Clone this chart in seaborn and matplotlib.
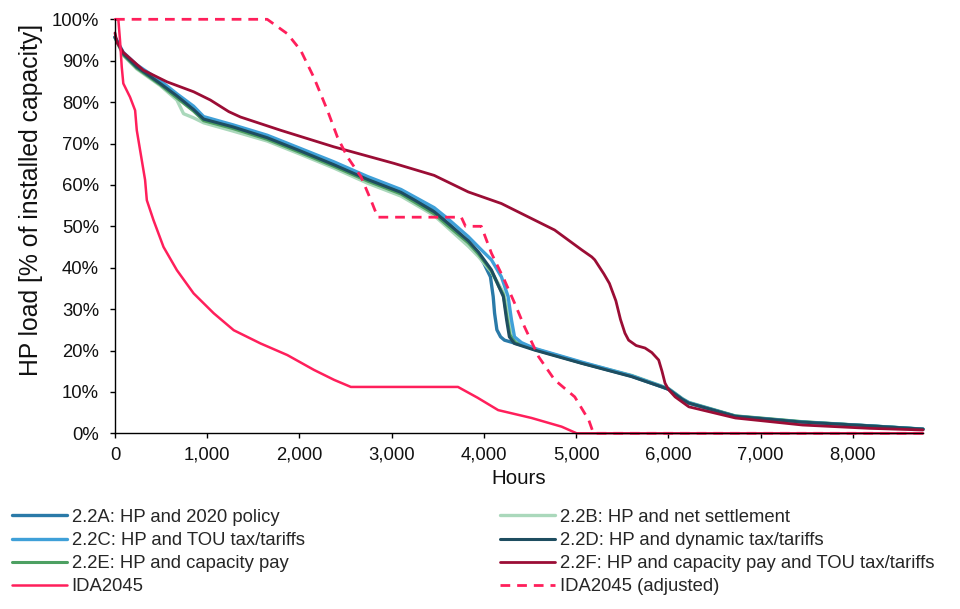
import matplotlib
matplotlib.use("Agg")
import matplotlib.pyplot as plt
import seaborn as sns
from matplotlib.ticker import PercentFormatter, FuncFormatter, MultipleLocator

# load duration curves (hours vs % of installed capacity)
hours_a = [0, 54, 90, 236, 490, 671, 852, 961, 1280, 1650, 2010, 2370, 2740, 3100, 3460, 3610, 3830, 3940,
           4000, 4070, 4100, 4115, 4140, 4180, 4222, 4330, 4516, 5060, 5600, 5930, 6003, 6150, 6220, 6726,
           7450, 8180, 8760]
load_a = [95.7, 93.3, 91.8, 88.7, 84.8, 81.6, 78.5, 76.2, 74.2, 71.6, 68.5, 65.2, 61.6, 58.4, 53.8, 50.8, 46.3,
          43.2, 41.0, 37.8, 33.0, 29.0, 25.0, 23.3, 22.5, 21.8, 20.6, 17.0, 13.8, 11.2, 10.6, 8.2, 7.3, 4.1,
          2.7, 1.8, 1.0]

hours_b = [0, 54, 90, 236, 490, 671, 743, 852, 961, 1280, 1650, 2010, 2370, 2740, 3100, 3460, 3610, 3830, 3940,
           4080, 4160, 4210, 4255, 4290, 4360, 4550, 5060, 5600, 5930, 6003, 6150, 6220, 6726, 7450, 8180, 8760]
load_b = [95.5, 93.0, 91.3, 88.0, 84.0, 80.5, 77.2, 76.2, 75.0, 73.0, 70.6, 67.4, 64.1, 60.4, 57.3, 52.6, 49.6,
          45.2, 42.7, 39.0, 36.0, 34.0, 30.0, 24.0, 22.0, 20.4, 17.1, 14.0, 11.4, 10.8, 8.4, 7.5, 4.2, 2.8, 1.8, 1.0]

hours_c = [0, 54, 90, 236, 490, 671, 852, 961, 1280, 1650, 2010, 2370, 2740, 3100, 3460, 3610, 3830, 3972, 4081,
           4189, 4262, 4298, 4331, 4407, 4550, 5060, 5600, 5930, 6003, 6150, 6220, 6726, 7450, 8180, 8760]
load_c = [95.7, 93.5, 92.0, 89.0, 85.2, 82.0, 79.0, 76.5, 74.5, 72.0, 68.8, 65.6, 62.0, 58.9, 54.5, 51.8, 47.5,
          44.3, 41.9, 37.8, 33.0, 27.4, 23.3, 21.9, 20.5, 17.2, 13.9, 11.3, 10.7, 8.3, 7.4, 4.1, 2.7, 1.8, 1.0]

hours_d = [0, 54, 90, 236, 490, 671, 852, 961, 1280, 1650, 2010, 2370, 2740, 3100, 3250, 3460, 3610, 3830, 3940,
           4080, 4115, 4160, 4210, 4245, 4275, 4330, 4550, 5060, 5600, 5930, 6003, 6150, 6220, 6726, 7450, 8180,
           8760]
load_d = [95.7, 93.3, 91.7, 88.5, 84.5, 81.5, 78.2, 75.9, 74.0, 71.4, 68.2, 64.9, 61.3, 58.2, 56.3, 53.5, 50.7,
          46.5, 43.8, 39.5, 37.8, 35.5, 33.0, 27.4, 23.3, 21.7, 20.1, 16.9, 13.7, 11.2, 10.6, 8.2, 7.3, 4.1, 2.7,
          1.8, 1.0]

hours_e = [0, 54, 90, 236, 490, 671, 852, 961, 1280, 1650, 2010, 2370, 2740, 3100, 3460, 3610, 3830, 3940, 4080,
           4160, 4210, 4245, 4280, 4340, 4550, 5060, 5600, 5930, 6003, 6150, 6220, 6726, 7450, 8180, 8760]
load_e = [95.6, 93.1, 91.4, 88.2, 84.2, 81.0, 77.8, 75.5, 73.6, 71.0, 67.8, 64.5, 60.9, 57.8, 53.0, 50.1, 46.0,
          43.3, 39.2, 35.5, 33.5, 28.5, 23.8, 21.9, 20.2, 17.0, 13.9, 11.3, 10.7, 8.3, 7.4, 4.2, 2.8, 1.8, 1.0]

hours_f = [0, 20, 90, 308, 563, 852, 1034, 1233, 1360, 1795, 2372, 3025, 3460, 3830, 4189, 4333, 4766, 5060,
           5169, 5201, 5300, 5360, 5430, 5480, 5528, 5568, 5650, 5746, 5820, 5894, 5930, 5963, 6003, 6072, 6221,
           6726, 7454, 8180, 8760]
load_f = [96.7, 94.5, 92.0, 87.7, 84.9, 82.5, 80.5, 77.7, 76.4, 73.2, 69.2, 65.2, 62.3, 58.3, 55.5, 53.9, 49.1,
          44.3, 42.6, 41.9, 38.5, 36.2, 32.0, 27.5, 24.2, 22.5, 21.2, 20.6, 19.5, 17.7, 15.0, 12.1, 10.5, 8.8,
          6.4, 3.7, 2.0, 1.2, 0.8]

hours_ida = [0, 36, 54, 73, 90, 163, 218, 236, 326, 345, 417, 526, 671, 852, 1070, 1287, 1578, 1868, 2158, 2376,
             2557, 3718, 3930, 4154, 4516, 4842, 5005, 8760]
load_ida = [100, 100, 95.0, 88.5, 84.5, 81.2, 78.0, 73.2, 61.2, 56.3, 51.5, 45.0, 39.4, 33.8, 29.0, 24.9, 21.7,
            18.9, 15.3, 12.9, 11.2, 11.2, 8.6, 5.6, 3.7, 1.6, 0.0, 0.0]

hours_adj = [0, 1650, 1869, 2013, 2155, 2303, 2412, 2521, 2666, 2775, 2848, 3754, 3800, 3971, 4081, 4222, 4331,
             4440, 4592, 4766, 4984, 5136, 5187, 8760]
load_adj = [100, 100, 96.5, 92.5, 86.0, 78.0, 71.5, 66.7, 62.0, 56.3, 52.2, 52.2, 50.0, 50.0, 43.5, 37.0, 31.5,
            25.7, 18.5, 12.9, 8.8, 3.2, 0.0, 0.0]

labels = ["2.2A: HP and 2020 policy", "2.2B: HP and net settlement", "2.2C: HP and TOU tax/tariffs",
          "2.2D: HP and dynamic tax/tariffs", "2.2E: HP and capacity pay",
          "2.2F: HP and capacity pay and TOU tax/tariffs", "IDA2045", "IDA2045 (adjusted)"]

sns.set_style("ticks")
plt.rcParams['font.family'] = ['Liberation Sans', 'DejaVu Sans']

fig = plt.figure(figsize=(9.6, 6.09), dpi=100)
ax = fig.add_axes([0.1198, 0.2885, 0.8417, 0.6798])

# (hours, load, colour, linewidth, linestyle) in drawing order
series = {
    labels[0]: (hours_a, load_a, '#2A7AA8', 2.4, '-'),
    labels[1]: (hours_b, load_b, '#AAD8BB', 2.4, '-'),
    labels[4]: (hours_e, load_e, '#4DA062', 2.2, '-'),
    labels[2]: (hours_c, load_c, '#3FA0D8', 2.4, '-'),
    labels[3]: (hours_d, load_d, '#1E4D60', 2.2, '-'),
    labels[5]: (hours_f, load_f, '#9B0D35', 2.0, '-'),
    labels[6]: (hours_ida, load_ida, '#FF1F5B', 1.8, '-'),
    labels[7]: (hours_adj, load_adj, '#FF1F5B', 2.0, (0, (3.5, 2.5))),
}
for name, (hx, ly, col, lw, ls) in series.items():
    sns.lineplot(x=hx, y=ly, ax=ax, color=col, lw=lw, linestyle=ls, label=name,
                 estimator=None, sort=False, legend=False, clip_on=False)

ax.set_xlim(0, 8760)
ax.set_ylim(0, 100)
ax.xaxis.set_major_locator(MultipleLocator(1000))
ax.yaxis.set_major_locator(MultipleLocator(10))
ax.xaxis.set_major_formatter(FuncFormatter(lambda v, p: f'{int(v):,}'))
ax.yaxis.set_major_formatter(PercentFormatter(100, decimals=0))
ax.tick_params(labelsize=13.3, length=3.6, width=1, color='black', labelcolor='#111111')
ax.tick_params(axis='y', pad=8)
ax.tick_params(axis='x', pad=6)
for s in ['top', 'right']:
    ax.spines[s].set_visible(False)
for s in ['left', 'bottom']:
    ax.spines[s].set_color('black')
    ax.spines[s].set_linewidth(1)

ax.set_xlabel('Hours', fontsize=14.8, color='#111111')
ax.set_ylabel('HP load [% of installed capacity]', fontsize=17.8, color='#111111')
ax.yaxis.set_label_coords(-0.089, 0.563)

handles, labs = ax.get_legend_handles_labels()
lookup = dict(zip(labs, handles))
order = [labels[0], labels[2], labels[4], labels[6], labels[1], labels[3], labels[5], labels[7]]
fig.legend([lookup[n] for n in order], order, loc='upper left', bbox_to_anchor=(0.0122, 0.1644),
           ncol=2, frameon=False, fontsize=13.3, handlelength=2.97, handletextpad=0.27,
           columnspacing=10.6, labelspacing=0.33, borderpad=0, borderaxespad=0)

plt.savefig('out.png', dpi=100)
plt.close()
